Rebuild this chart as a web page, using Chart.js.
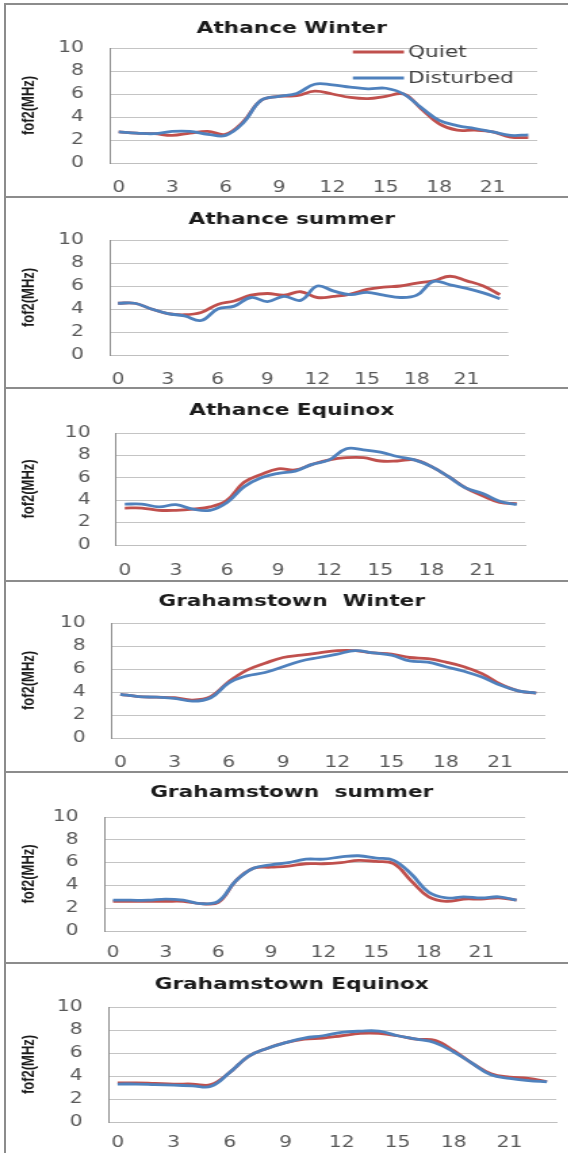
<!DOCTYPE html>
<html>
<head>
<meta charset="utf-8">
<title>foF2 quiet vs disturbed</title>
<script src="https://cdn.jsdelivr.net/npm/chart.js@4.4.1/dist/chart.umd.min.js"></script>
<style>
  html, body { margin: 0; padding: 0; background: #fff; }
  #sheet { position: relative; width: 568px; height: 1153px; overflow: hidden; background: #fff; }
  .rule { position: absolute; left: 4px; right: 0; height: 2px; background: #8c8c8c; z-index: 2; }
  .edge { position: absolute; left: 4px; top: 3px; bottom: 0; width: 2px; background: #8c8c8c; z-index: 2; }
  .panel { position: absolute; left: 0; transform-origin: 0 0; }
</style>
</head>
<body>
<div id="sheet"></div>
<script>
// hours of the day (UT)
const hours = [0, 1, 2, 3, 4, 5, 6, 7, 8, 9, 10, 11, 12, 13, 14, 15, 16, 17, 18, 19, 20, 21, 22, 23];
const yTicks = [0, 2, 4, 6, 8, 10];
const seriesNames = ["Quiet", "Disturbed"];
const titles = [
  "Athance Winter",
  "Athance summer",
  "Athance Equinox",
  "Grahamstown  Winter",
  "Grahamstown  summer",
  "Grahamstown Equinox",
];

// foF2 (MHz)
const athWinterQuiet = [2.7, 2.6, 2.55, 2.4, 2.6, 2.75, 2.5, 3.6, 5.45, 5.8, 5.85, 6.25, 6.0, 5.7, 5.6, 5.8, 6.0, 4.7, 3.4, 2.85, 2.85, 2.7, 2.25, 2.2];
const athWinterDist = [2.7, 2.6, 2.55, 2.75, 2.75, 2.5, 2.4, 3.5, 5.45, 5.8, 6.05, 6.85, 6.8, 6.6, 6.45, 6.5, 6.0, 4.8, 3.7, 3.25, 3.0, 2.7, 2.4, 2.45];

const athSummerQuiet = [4.5, 4.5, 4.0, 3.6, 3.5, 3.7, 4.4, 4.7, 5.2, 5.35, 5.2, 5.5, 5.0, 5.1, 5.3, 5.7, 5.9, 6.0, 6.25, 6.45, 6.85, 6.45, 6.0, 5.25];
const athSummerDist = [4.5, 4.5, 4.0, 3.6, 3.4, 3.0, 4.0, 4.25, 5.0, 4.65, 5.1, 4.75, 6.0, 5.55, 5.25, 5.45, 5.2, 5.0, 5.2, 6.4, 6.1, 5.8, 5.4, 4.9];

const athEquinoxQuiet = [3.3, 3.3, 3.1, 3.1, 3.2, 3.4, 4.0, 5.6, 6.3, 6.8, 6.7, 7.2, 7.6, 7.8, 7.8, 7.5, 7.5, 7.6, 7.0, 6.1, 5.1, 4.4, 3.8, 3.7];
const athEquinoxDist = [3.65, 3.65, 3.4, 3.6, 3.2, 3.1, 3.8, 5.2, 6.0, 6.4, 6.6, 7.2, 7.6, 8.6, 8.5, 8.3, 7.9, 7.6, 7.0, 6.1, 5.1, 4.6, 3.9, 3.6];

const grWinterQuiet = [3.8, 3.6, 3.55, 3.5, 3.3, 3.6, 4.9, 5.9, 6.5, 7.0, 7.2, 7.4, 7.6, 7.6, 7.4, 7.3, 7.0, 6.9, 6.6, 6.2, 5.6, 4.7, 4.1, 3.9];
const grWinterDist = [3.8, 3.6, 3.55, 3.45, 3.2, 3.5, 4.8, 5.4, 5.7, 6.2, 6.7, 7.0, 7.3, 7.6, 7.4, 7.2, 6.7, 6.6, 6.2, 5.8, 5.3, 4.6, 4.1, 3.9];

const grSummerQuiet = [2.6, 2.6, 2.6, 2.6, 2.6, 2.4, 2.5, 4.4, 5.5, 5.6, 5.7, 5.9, 5.9, 6.0, 6.2, 6.1, 5.9, 4.4, 3.0, 2.6, 2.8, 2.8, 2.9, 2.7];
const grSummerDist = [2.7, 2.7, 2.7, 2.8, 2.7, 2.4, 2.6, 4.4, 5.5, 5.8, 6.0, 6.3, 6.3, 6.5, 6.6, 6.4, 6.2, 5.0, 3.4, 2.9, 3.0, 2.9, 3.0, 2.7];

const grEquinoxQuiet = [3.4, 3.4, 3.35, 3.3, 3.3, 3.25, 4.3, 5.7, 6.4, 6.9, 7.2, 7.3, 7.5, 7.7, 7.7, 7.5, 7.2, 7.1, 6.2, 5.1, 4.2, 3.9, 3.8, 3.5];
const grEquinoxDist = [3.3, 3.3, 3.25, 3.2, 3.15, 3.1, 4.3, 5.7, 6.4, 6.9, 7.3, 7.5, 7.8, 7.9, 7.9, 7.5, 7.2, 6.9, 6.1, 5.1, 4.1, 3.8, 3.6, 3.5];

const quietSeries = [athWinterQuiet, athSummerQuiet, athEquinoxQuiet, grWinterQuiet, grSummerQuiet, grEquinoxQuiet];
const disturbedSeries = [athWinterDist, athSummerDist, athEquinoxDist, grWinterDist, grSummerDist, grEquinoxDist];

// page layout (px in the 568 wide page); the scanned figure is stretched sideways
const STRETCH = 1.35;
const PAGE_W = 568;
const ruleTops = [3, 196, 387, 580, 771, 962];
const plotBoxes = [
  { left: 109.5, right: 536, top: 48, bottom: 163, labelGap: 25, titleY: 29 },
  { left: 109.5, right: 507, top: 240, bottom: 355, labelGap: 25, titleY: 220 },
  { left: 116, right: 524, top: 433, bottom: 545, labelGap: 26, titleY: 411 },
  { left: 111, right: 544, top: 623, bottom: 738, labelGap: 25, titleY: 602 },
  { left: 104, right: 524, top: 817, bottom: 931, labelGap: 22, titleY: 793 },
  { left: 108, right: 555, top: 1007, bottom: 1122, labelGap: 21, titleY: 985 },
];
const TITLE_X = 291;

const RED = "#c0504d";
const BLUE = "#4f81bd";
const TICK_FONT = { family: "'DejaVu Sans', sans-serif", size: 15 };

// chart title + in-plot legend, drawn in the stretched canvas space
const panelText = {
  id: "panelText",
  afterDraw(chart, args, opts) {
    const ctx = chart.ctx;
    ctx.save();
    ctx.fillStyle = "#1a1a1a";
    ctx.font = "bold 16px 'DejaVu Sans', sans-serif";
    ctx.textAlign = "center";
    ctx.textBaseline = "middle";
    ctx.fillText(opts.text, opts.x, opts.y);

    if (opts.legend) {
      const area = chart.chartArea;
      const x0 = 352 / STRETCH;
      const x1 = 403 / STRETCH;
      const rows = [4, 30];
      ctx.font = "16px 'DejaVu Sans', sans-serif";
      ctx.textAlign = "left";
      ctx.fillStyle = "#404040";
      seriesNames.forEach((name, i) => {
        const ds = chart.data.datasets.find((d) => d.label === name);
        const y = area.top + rows[i];
        ctx.strokeStyle = ds.borderColor;
        ctx.lineWidth = 3;
        ctx.beginPath();
        ctx.moveTo(x0, y);
        ctx.lineTo(x1, y);
        ctx.stroke();
        ctx.fillText(name, 407 / STRETCH, y + 1);
      });
    }
    ctx.restore();
  },
};

const sheet = document.getElementById("sheet");
const edge = document.createElement("div");
edge.className = "edge";
sheet.appendChild(edge);

ruleTops.forEach((top, i) => {
  const rule = document.createElement("div");
  rule.className = "rule";
  rule.style.top = `${top}px`;
  sheet.appendChild(rule);

  const canvasTop = top + 2;
  const canvasBottom = i + 1 < ruleTops.length ? ruleTops[i + 1] : 1153;
  const height = canvasBottom - canvasTop;
  const width = PAGE_W / STRETCH;
  const box = plotBoxes[i];

  const holder = document.createElement("div");
  holder.className = "panel";
  holder.style.top = `${canvasTop}px`;
  holder.style.width = `${width}px`;
  holder.style.height = `${height}px`;
  holder.style.transform = `scaleX(${STRETCH})`;
  const canvas = document.createElement("canvas");
  holder.appendChild(canvas);
  sheet.appendChild(holder);

  const padTop = box.top - canvasTop;
  const plotH = box.bottom - box.top;
  const xAxisH = height - padTop - plotH;

  new Chart(canvas.getContext("2d"), {
    type: "line",
    data: {
      labels: hours,
      datasets: [
        {
          label: seriesNames[0],
          data: quietSeries[i],
          borderColor: RED,
          backgroundColor: RED,
          borderWidth: 2.8,
          pointRadius: 0,
          tension: 0.4,
          order: 1,
        },
        {
          label: seriesNames[1],
          data: disturbedSeries[i],
          borderColor: BLUE,
          backgroundColor: BLUE,
          borderWidth: 2.8,
          pointRadius: 0,
          tension: 0.4,
          order: 0,
        },
      ],
    },
    options: {
      responsive: true,
      maintainAspectRatio: false,
      animation: false,
      layout: {
        padding: { left: 0, top: padTop, right: width - box.right / STRETCH, bottom: 0 },
      },
      plugins: {
        legend: { display: false },
        tooltip: { enabled: false },
        panelText: {
          text: titles[i],
          x: TITLE_X / STRETCH,
          y: box.titleY - canvasTop,
          legend: i === 0,
        },
      },
      scales: {
        x: {
          offset: true,
          grid: { display: false, drawTicks: false },
          border: { display: true, color: "#bfbfbf", width: 1 },
          ticks: {
            autoSkip: false,
            maxRotation: 0,
            padding: box.labelGap - 9,
            color: "#595959",
            font: TICK_FONT,
            callback: (value, index) => (index % 3 === 0 ? String(hours[index]) : ""),
          },
          afterFit: (scale) => {
            scale.height = xAxisH;
          },
        },
        y: {
          min: 0,
          max: 10,
          afterBuildTicks: (scale) => {
            scale.ticks = yTicks.map((v) => ({ value: v }));
          },
          grid: { color: "#c4c4c4", lineWidth: 1, drawTicks: false },
          border: { display: true, color: "#8c8c8c", width: 1 },
          ticks: {
            padding: 19,
            color: "#595959",
            font: TICK_FONT,
          },
          title: {
            display: true,
            text: "fof2(MHz)",
            color: "#1a1a1a",
            font: { family: "'Liberation Sans', Arial, sans-serif", size: 13, weight: "bold" },
            padding: { top: 28.5 / STRETCH - 7.8, bottom: 0 },
          },
          afterFit: (scale) => {
            scale.width = box.left / STRETCH;
          },
        },
      },
    },
    plugins: [panelText],
  });
});
</script>
</body>
</html>
